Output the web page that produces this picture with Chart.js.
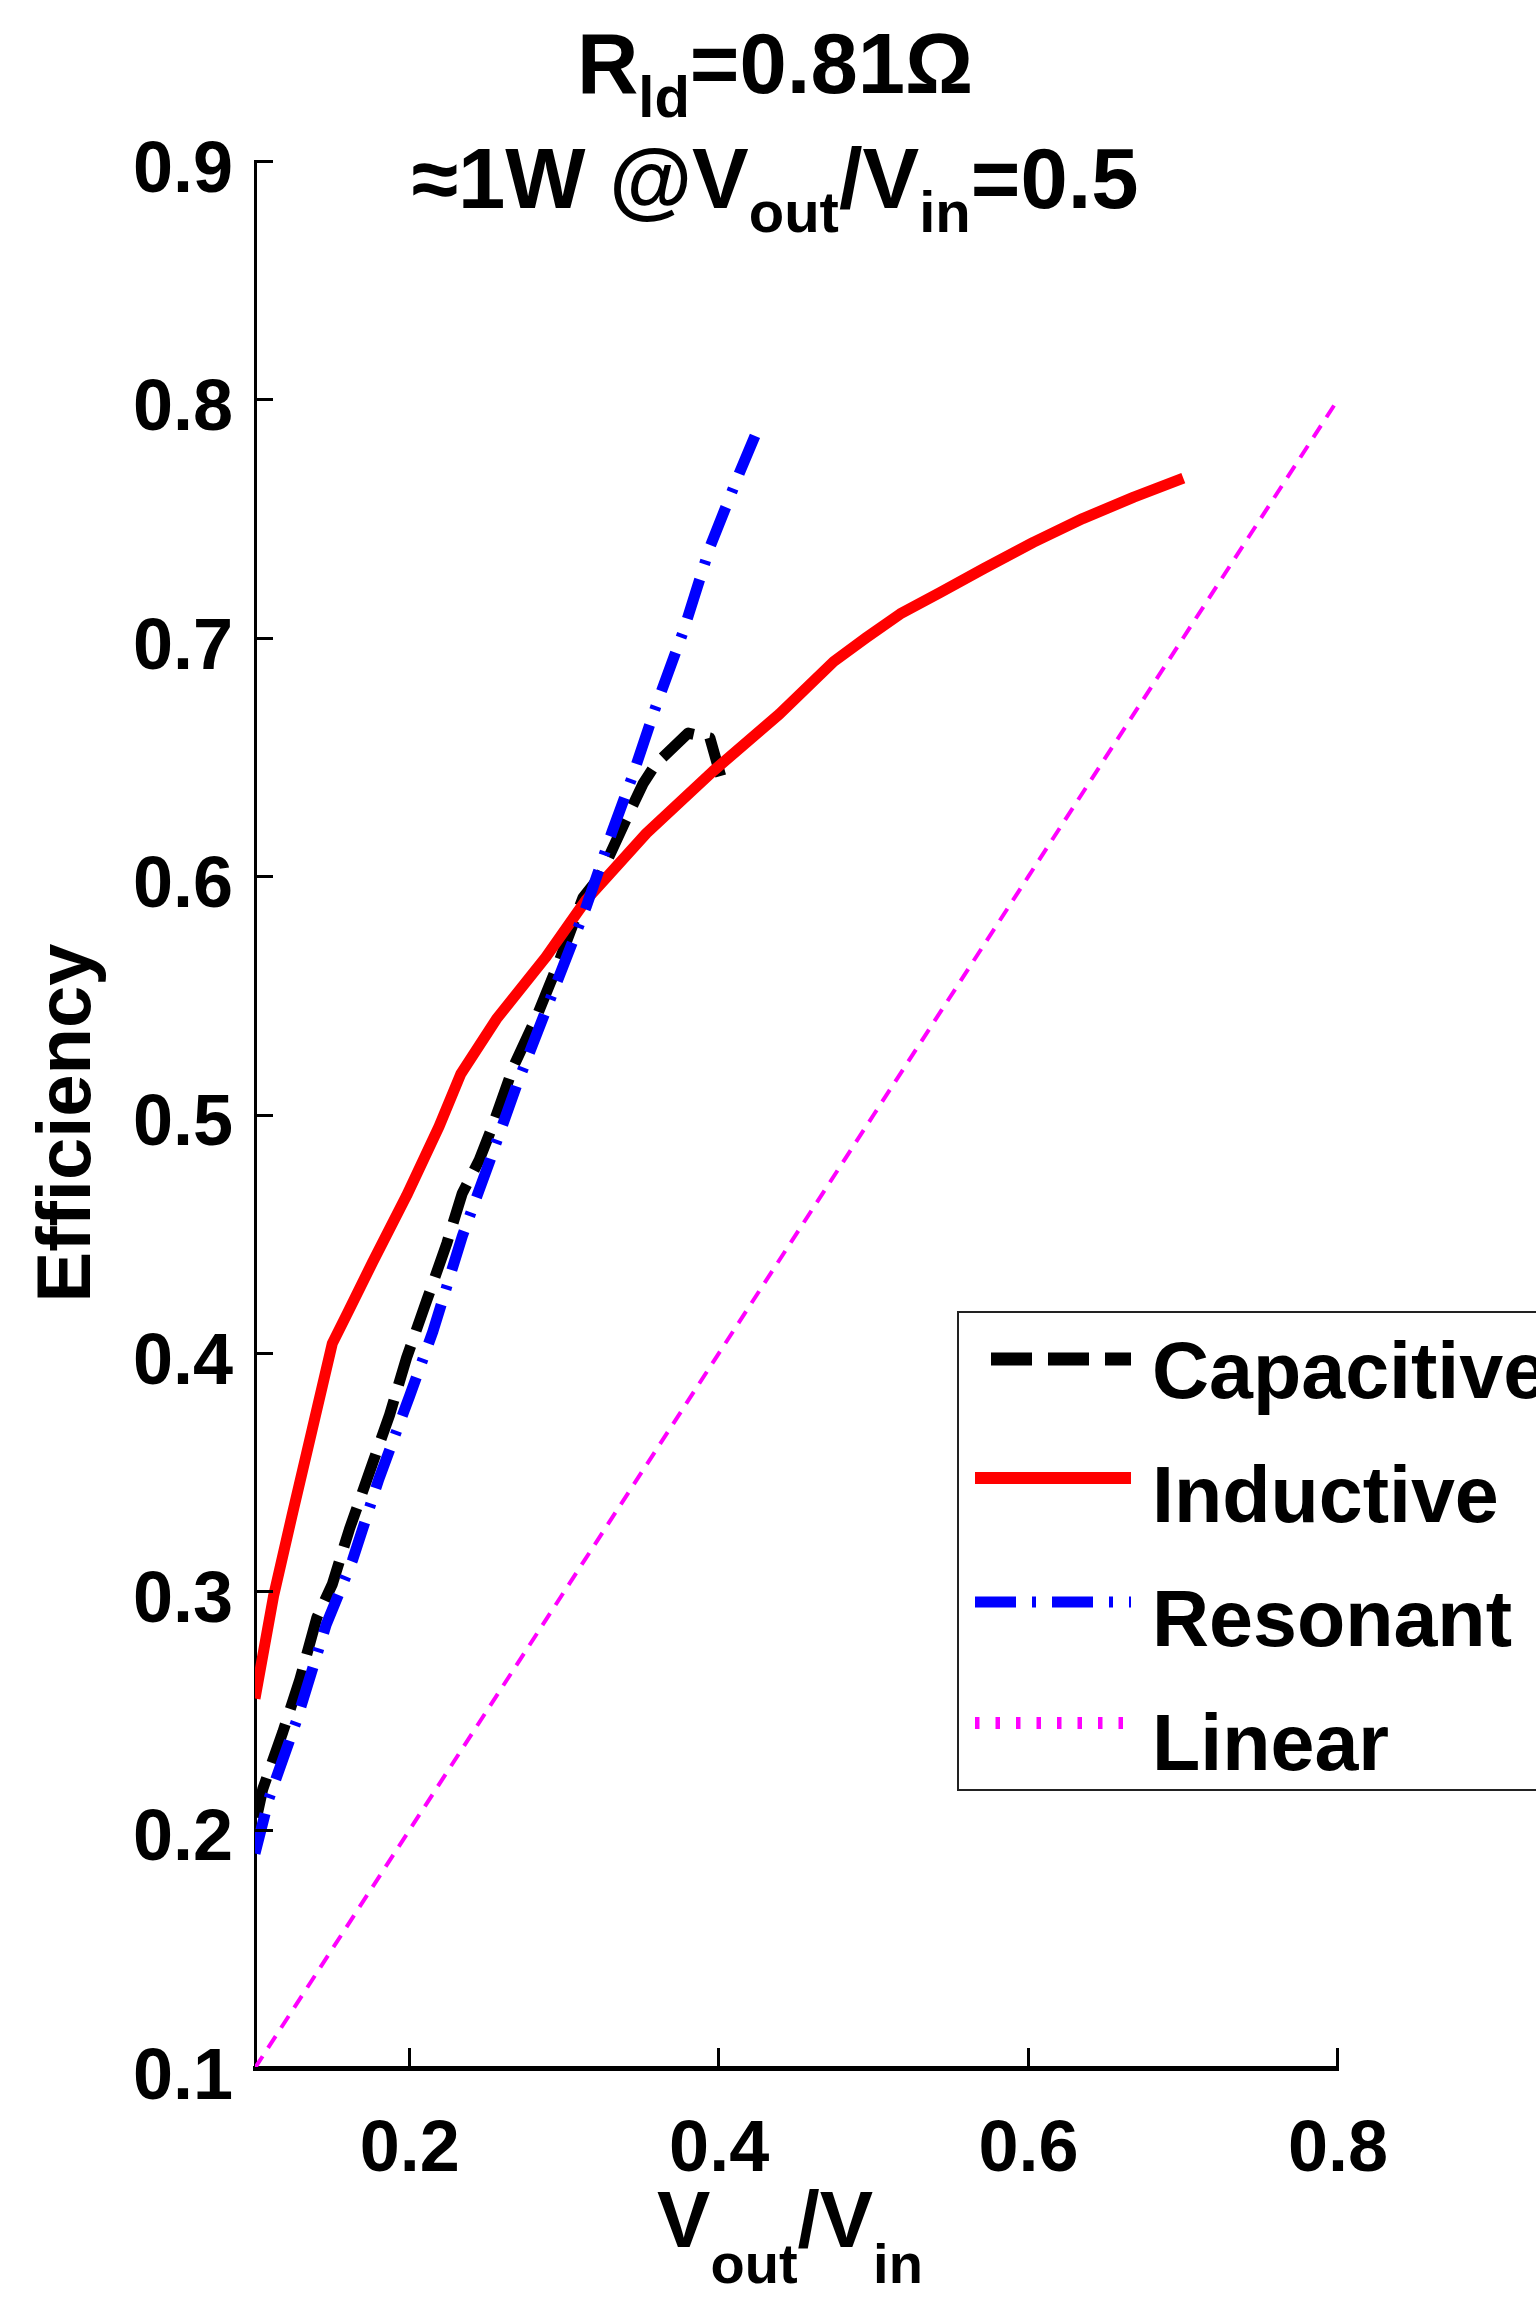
<!DOCTYPE html>
<html>
<head>
<meta charset="utf-8">
<script src="https://cdn.jsdelivr.net/npm/chart.js@4.4.1/dist/chart.umd.min.js"></script>
<style>
  html, body { margin: 0; padding: 0; background: #fff; }
  #wrap { width: 1536px; height: 2303px; }
</style>
</head>
<body>
<div id="wrap"><canvas id="effChart" width="1536" height="2303"></canvas></div>
<script>
// tick labels
const xTicks = [0.2, 0.4, 0.6, 0.8];
const yTicks = [0.1, 0.2, 0.3, 0.4, 0.5, 0.6, 0.7, 0.8, 0.9];

// Capacitive (black dashed)
const capX = [0.101, 0.105, 0.118, 0.129, 0.140, 0.150, 0.161, 0.174, 0.187, 0.198, 0.211, 0.224, 0.234, 0.245, 0.254, 0.267, 0.282, 0.297, 0.312, 0.323, 0.340, 0.351, 0.359, 0.380, 0.394, 0.401];
const capY = [0.205, 0.217, 0.241, 0.263, 0.289, 0.303, 0.326, 0.350, 0.374, 0.398, 0.422, 0.446, 0.467, 0.481, 0.496, 0.520, 0.541, 0.565, 0.591, 0.600, 0.624, 0.639, 0.647, 0.660, 0.658, 0.642];

// Inductive (red solid)
const indX = [0.100, 0.112, 0.124, 0.137, 0.150, 0.160, 0.176, 0.198, 0.219, 0.233, 0.256, 0.288, 0.314, 0.353, 0.396, 0.439, 0.474, 0.495, 0.517, 0.543, 0.571, 0.603, 0.635, 0.668, 0.700];
const indY = [0.255, 0.298, 0.332, 0.368, 0.404, 0.417, 0.438, 0.466, 0.495, 0.517, 0.540, 0.566, 0.590, 0.618, 0.644, 0.668, 0.690, 0.700, 0.710, 0.719, 0.729, 0.740, 0.750, 0.759, 0.767];

// Resonant (blue dash-dot)
const resX = [0.100, 0.109, 0.127, 0.146, 0.163, 0.180, 0.200, 0.215, 0.234, 0.252, 0.269, 0.293, 0.314, 0.331, 0.344, 0.359, 0.377, 0.394, 0.413, 0.424];
const resY = [0.190, 0.213, 0.246, 0.286, 0.313, 0.347, 0.382, 0.409, 0.449, 0.481, 0.512, 0.552, 0.587, 0.619, 0.642, 0.671, 0.703, 0.738, 0.769, 0.786];

// Linear (magenta dotted)
const linX = [0.1, 0.2, 0.3, 0.4, 0.5, 0.6, 0.7, 0.8];
const linY = [0.1, 0.2, 0.3, 0.4, 0.5, 0.6, 0.7, 0.8];

const labels = ['Capacitive', 'Inductive', 'Resonant', 'Linear'];

function pts(xs, ys) {
    return xs.map((v, i) => ({ x: v, y: ys[i] }));
}

const FONT = '"Liberation Sans", Arial, sans-serif';

// draws text with subscripts, parts = [[text, isSub], ...]
function richText(ctx, parts, x, base, size, subSize, drop, align) {
    let total = 0;
    const widths = parts.map(p => {
        ctx.font = 'bold ' + (p[1] ? subSize : size) + 'px ' + FONT;
        const w = ctx.measureText(p[0]).width;
        total += w;
        return w;
    });
    let cx = align === 'center' ? x - total / 2 : x;
    ctx.textAlign = 'left';
    ctx.textBaseline = 'alphabetic';
    parts.forEach((p, i) => {
        ctx.font = 'bold ' + (p[1] ? subSize : size) + 'px ' + FONT;
        ctx.fillText(p[0], cx, p[1] ? base + drop : base);
        cx += widths[i];
    });
}

const decor = {
    id: 'decor',
    afterDraw(chart) {
        const ctx = chart.ctx;
        const a = chart.chartArea;
        const sx = chart.scales.x, sy = chart.scales.y;
        ctx.save();

        // inward tick marks
        ctx.strokeStyle = '#000';
        ctx.lineWidth = 3;
        ctx.beginPath();
        sx.ticks.forEach(t => {
            const px = Math.round(sx.getPixelForValue(t.value)) - 0.5;
            ctx.moveTo(px, a.bottom);
            ctx.lineTo(px, a.bottom - 20);
        });
        sy.ticks.forEach(t => {
            const py = Math.round(sy.getPixelForValue(t.value)) + 0.5;
            ctx.moveTo(a.left, py);
            ctx.lineTo(a.left + 18, py);
        });
        ctx.stroke();

        ctx.fillStyle = '#000';
        // title
        richText(ctx, [['R', false], ['ld', true], ['=0.81\u03A9', false]], 775, 93, 85, 58, 24, 'center');
        richText(ctx, [['\u22481W @V', false], ['out', true], ['/V', false], ['in', true], ['=0.5', false]], 775, 208, 85, 58, 24, 'center');

        // x axis title
        richText(ctx, [['V', false], ['out', true], ['/V', false], ['in', true]], 790, 2247, 80, 56, 36, 'center');

        // y axis title
        ctx.save();
        ctx.translate(90, 1123);
        ctx.rotate(-Math.PI / 2);
        ctx.font = 'bold 76px ' + FONT;
        ctx.textAlign = 'center';
        ctx.textBaseline = 'alphabetic';
        ctx.fillText('Efficiency', 0, 0);
        ctx.restore();

        // legend box
        const lx = 958, ly = 1312, lb = 1790;
        ctx.fillStyle = '#fff';
        ctx.fillRect(lx, ly, 1536 - lx + 5, lb - ly);
        ctx.strokeStyle = '#222';
        ctx.lineWidth = 2;
        ctx.strokeRect(lx, ly, 1536 - lx + 10, lb - ly);

        const ds = chart.data.datasets;
        const rows = [1359, 1478, 1602, 1723];
        const bases = [1398, 1522, 1646, 1770];
        ds.forEach((d, i) => {
            ctx.save();
            ctx.strokeStyle = d.borderColor;
            ctx.lineWidth = d.legendWidth;
            ctx.setLineDash(d.legendDash || d.borderDash || []);
            ctx.lineDashOffset = d.legendDashOffset || 0;
            ctx.lineCap = 'butt';
            ctx.beginPath();
            ctx.moveTo(975, rows[i]);
            ctx.lineTo(1131, rows[i]);
            ctx.stroke();
            ctx.restore();
            ctx.fillStyle = '#000';
            ctx.font = 'bold 79px ' + FONT;
            ctx.textAlign = 'left';
            ctx.textBaseline = 'alphabetic';
            ctx.fillText(d.label, 1152, bases[i]);
        });
        ctx.restore();
    }
};

const tickFont = { family: FONT, size: 72, weight: 'bold' };

new Chart(document.getElementById('effChart'), {
    type: 'line',
    data: {
        datasets: [
            {
                label: labels[0],
                data: pts(capX, capY),
                borderColor: '#000000',
                borderWidth: 11,
                legendWidth: 13,
                borderDash: [41, 16],
                legendDashOffset: 41,
                order: 4
            },
            {
                label: labels[1],
                data: pts(indX, indY),
                borderColor: '#ff0000',
                borderWidth: 11,
                legendWidth: 12,
                order: 3
            },
            {
                label: labels[2],
                data: pts(resX, resY),
                borderColor: '#0000ff',
                borderWidth: 11,
                legendWidth: 11,
                borderDash: [41, 16, 4, 16],
                order: 2
            },
            {
                label: labels[3],
                data: pts(linX, linY),
                borderColor: '#ff00ff',
                borderWidth: 4,
                legendWidth: 12,
                borderDash: [14, 10],
                legendDash: [4.5, 16],
                order: 1
            }
        ]
    },
    options: {
        responsive: false,
        animation: false,
        devicePixelRatio: 1,
        layout: { padding: { top: 161, right: 198, bottom: 0, left: 0 } },
        elements: {
            point: { radius: 0, hoverRadius: 0 },
            line: { tension: 0, fill: false, borderJoinStyle: 'round' }
        },
        plugins: {
            legend: { display: false },
            tooltip: { enabled: false },
            title: { display: false }
        },
        scales: {
            x: {
                type: 'linear',
                min: 0.1,
                max: 0.8,
                afterBuildTicks: s => { s.ticks = xTicks.map(v => ({ value: v })); },
                afterFit: s => { s.height = 235; },
                grid: { display: false, drawTicks: false },
                border: { display: true, color: '#000', width: 5 },
                ticks: {
                    color: '#000',
                    font: tickFont,
                    padding: 40,
                    maxRotation: 0,
                    callback: v => v.toFixed(1)
                }
            },
            y: {
                type: 'linear',
                min: 0.1,
                max: 0.9,
                afterBuildTicks: s => { s.ticks = yTicks.map(v => ({ value: v })); },
                afterFit: s => { s.width = 255; },
                grid: { display: false, drawTicks: false },
                border: { display: true, color: '#000', width: 3 },
                ticks: {
                    color: '#000',
                    font: tickFont,
                    padding: 22,
                    labelOffset: 11,
                    callback: v => v.toFixed(1)
                }
            }
        }
    },
    plugins: [decor]
});
</script>
</body>
</html>
